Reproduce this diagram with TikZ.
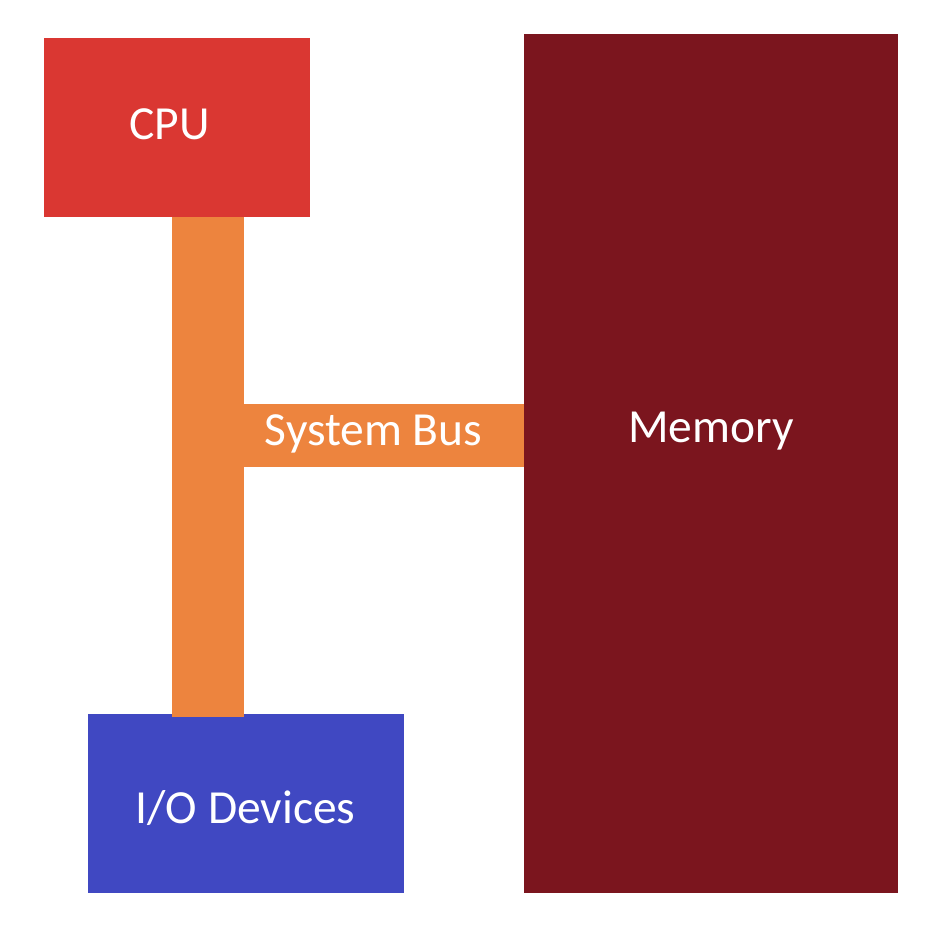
\documentclass[tikz,border=0pt]{standalone}
\usepackage{fontspec}
\setmainfont{Carlito}
\usetikzlibrary{positioning}

\definecolor{cpured}{HTML}{DA3732}
\definecolor{busorange}{HTML}{ED843E}
\definecolor{memred}{HTML}{7B151E}
\definecolor{ioblue}{HTML}{4048C2}

\begin{document}
\begin{tikzpicture}[x=1pt,y=-1pt,
        block/.style={rectangle,inner sep=0pt,draw=none},
        lbl/.style={anchor=base,inner sep=0pt,text=white,font=\fontsize{47.5}{57}\selectfont},
        bus/.style={draw=busorange,line cap=butt}
        ]
        \useasboundingbox (0,0) rectangle (952,928);
        % units
        \node (cpu) [block,fill=cpured,minimum width=266pt,minimum height=179pt] at (177,127.5) {};
        \node (mem) [block,fill=memred,minimum width=374pt,minimum height=859pt] at (711,463.5) {};
        \node (io)  [block,fill=ioblue,minimum width=316pt,minimum height=179pt] at (246,803.5) {};
        % bus
        \coordinate (bustop) at (208,217);
        \coordinate (busbot) at (208,717);
        \coordinate (busmid) at (243,435.5);
        \draw[bus,line width=72pt] (bustop) -- (busbot);
        \draw[bus,line width=63pt] (busmid) -- (busmid -| mem.west);
        % labels
        \node (cpulbl) [lbl] at (169.5,139.5) {CPU};
        \node (memlbl) [lbl] at (711,442) {Memory};
        \node (iolbl)  [lbl] at (245.5,823) {I/O Devices};
        \node (buslbl) [lbl] at (373.5,445) {System Bus};
\end{tikzpicture}
\end{document}
